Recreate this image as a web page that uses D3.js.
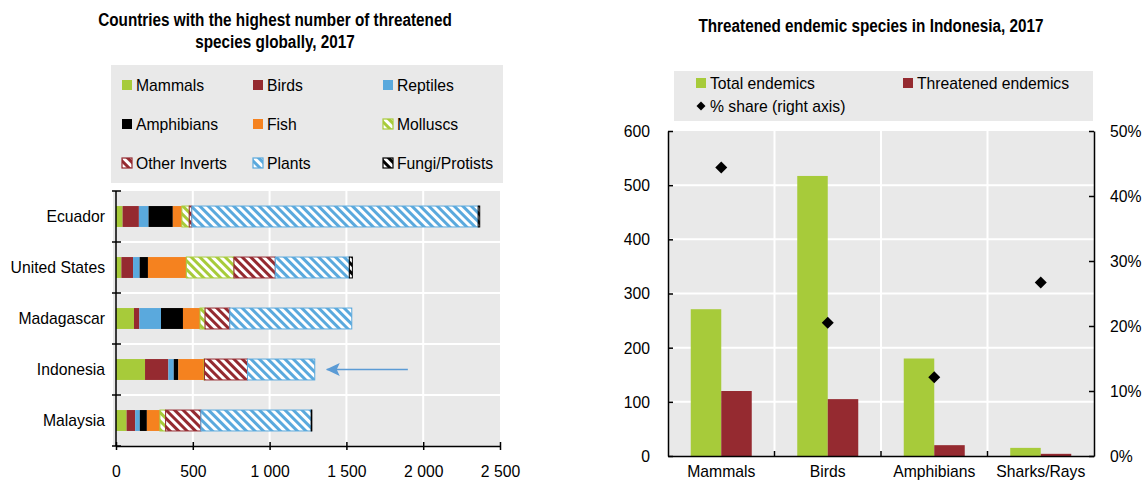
<!DOCTYPE html>
<meta charset="utf-8">
<style>

body {
  margin: 0;
  background: #fff;
}

svg text {
  font-family: "Liberation Sans", Arial, sans-serif;
  fill: #000;
}

.title {
  font-size: 18px;
  font-weight: bold;
}

.lab {
  font-size: 17px;
}

</style>
<body>
<script src="https://d3js.org/d3.v7.js"></script>
<script>

// left chart data (number of threatened species, 2017)
var countries = ["Ecuador", "United States", "Madagascar", "Indonesia", "Malaysia"];
var groups = ["Mammals", "Birds", "Reptiles", "Amphibians", "Fish", "Molluscs", "Other Inverts", "Plants", "Fungi/Protists"];
var mammals      = [43, 35, 117, 189, 69];
var birds        = [106, 76, 35, 152, 56];
var reptiles     = [63, 43, 141, 35, 30];
var amphibians   = [158, 54, 143, 30, 46];
var fish         = [59, 250, 111, 167, 85];
var molluscs     = [48, 310, 33, 3, 37];
var otherInverts = [17, 269, 161, 280, 230];
var plants       = [1864, 482, 794, 438, 718];
var fungi        = [10, 20, 0, 0, 4];
var xTicks1 = [0, 500, 1000, 1500, 2000, 2500];

// right chart data (Indonesia endemics)
var taxa = ["Mammals", "Birds", "Amphibians", "Sharks/Rays"];
var totalEndemics = [271, 517, 180, 15];
var threatenedEndemics = [120, 105, 20, 4];
var shareRight = [44.4, 20.5, 12.1, 26.7];
var yTicks2 = [0, 100, 200, 300, 400, 500, 600];
var yTicksRight = [0, 10, 20, 30, 40, 50];

var width = 1143, height = 481;

var green = "#a7cb3a", red = "#952a30", blue = "#5aa9dd", orange = "#f5821f", black = "#000";
var bg = "#e9e9e9";

var groupColor = [green, red, blue, black, orange, green, red, blue, black];
var hatched = [false, false, false, false, false, true, true, true, true];

var svg = d3.select("body").append("svg")
    .attr("width", width)
    .attr("height", height);

var defs = svg.append("defs");
groups.forEach(function(g, i) {
  if (!hatched[i]) return;
  var p = defs.append("pattern")
      .attr("id", "hatch" + i)
      .attr("patternUnits", "userSpaceOnUse")
      .attr("width", 6)
      .attr("height", 6)
      .attr("patternTransform", "rotate(-45)");
  p.append("rect").attr("width", 6).attr("height", 6).attr("fill", "#fff");
  p.append("rect").attr("width", 3).attr("height", 6).attr("fill", groupColor[i]);
});
var fillOf = i => hatched[i] ? "url(#hatch" + i + ")" : groupColor[i];

// ---------- left chart ----------
var rows = countries.map((c, i) => ({
  country: c,
  "Mammals": mammals[i], "Birds": birds[i], "Reptiles": reptiles[i],
  "Amphibians": amphibians[i], "Fish": fish[i], "Molluscs": molluscs[i],
  "Other Inverts": otherInverts[i], "Plants": plants[i], "Fungi/Protists": fungi[i]
}));

var x1 = d3.scaleLinear().domain([0, 2500]).range([116, 500]);
var y1 = d3.scaleBand().domain(countries).range([191, 446])
    .paddingInner(0.59).paddingOuter(0.295);

svg.append("text").attr("class", "title")
    .attr("x", 275).attr("y", 26).attr("text-anchor", "middle")
    .text("Countries with the highest number of threatened");
svg.append("text").attr("class", "title")
    .attr("x", 275).attr("y", 48).attr("text-anchor", "middle")
    .text("species globally, 2017");

// legend
svg.append("rect").attr("x", 111).attr("y", 65).attr("width", 392).attr("height", 118).attr("fill", bg);
var legCols = [122, 253, 383];
var legRows = [85, 124, 163];
var leg = svg.selectAll("g.leg1")
  .data(groups)
  .enter().append("g")
    .attr("class", "leg1")
    .attr("transform", (d, i) => `translate(${legCols[i % 3]}, ${legRows[Math.floor(i / 3)]})`);
leg.append("rect")
    .attr("x", 0).attr("y", -5).attr("width", 10).attr("height", 10)
    .attr("fill", (d, i) => fillOf(i))
    .attr("stroke", (d, i) => hatched[i] ? groupColor[i] : "none")
    .attr("stroke-width", 1.2);
leg.append("text").attr("class", "lab")
    .attr("x", 14).attr("y", 6)
    .text(d => d);

// plot background and grid
svg.append("rect").attr("x", 113).attr("y", 191).attr("width", 387).attr("height", 255).attr("fill", bg);
svg.append("g").selectAll("line")
  .data(xTicks1.slice(1, -1))
  .enter().append("line")
    .attr("x1", d => x1(d)).attr("x2", d => x1(d))
    .attr("y1", 191).attr("y2", 446)
    .attr("stroke", "#fff").attr("stroke-width", 2);
var bounds1 = d3.range(1, countries.length).map(i => y1.range()[0] + i * y1.step());
svg.append("g").selectAll("line")
  .data(bounds1)
  .enter().append("line")
    .attr("x1", 113).attr("x2", 500)
    .attr("y1", d => d).attr("y2", d => d)
    .attr("stroke", "#fff").attr("stroke-width", 2);

// bars
var stack = d3.stack().keys(groups)(rows);
svg.append("g").selectAll("g")
  .data(stack)
  .enter().append("g")
    .attr("fill", (d, i) => fillOf(i))
    .attr("stroke", (d, i) => hatched[i] ? groupColor[i] : "none")
    .attr("stroke-width", 1)
  .selectAll("rect")
  .data(d => d.filter(s => s[1] > s[0]))
  .enter().append("rect")
    .attr("x", d => x1(d[0]))
    .attr("width", d => x1(d[1]) - x1(d[0]))
    .attr("y", d => y1(d.data.country))
    .attr("height", y1.bandwidth());

// axes
var fmt = d3.formatLocale({decimal: ".", thousands: " ", grouping: [3], currency: ["", ""]}).format(",");
var xAxis1 = svg.append("g")
    .attr("transform", "translate(0, 446)")
    .call(d3.axisBottom(x1).tickValues(xTicks1).tickFormat(fmt).tickSize(-5).tickPadding(19).tickSizeOuter(0));
xAxis1.selectAll(".tick line").attr("y1", -4).attr("y2", 4);
var yAxis1 = svg.append("g")
    .attr("transform", "translate(116, 0)")
    .call(d3.axisLeft(y1).tickSize(0).tickPadding(11));
yAxis1.select(".domain").remove();
svg.append("g").selectAll("line")
  .data([191].concat(bounds1, [446]))
  .enter().append("line")
    .attr("x1", 112).attr("x2", 121)
    .attr("y1", d => d).attr("y2", d => d)
    .attr("stroke", "#000").attr("stroke-width", 1.5);
svg.append("line").attr("x1", 116).attr("x2", 116).attr("y1", 191).attr("y2", 446)
    .attr("stroke", "#000").attr("stroke-width", 1.5);

// arrow pointing at Indonesia
var ay = y1("Indonesia") + y1.bandwidth() / 2;
defs.append("marker")
    .attr("id", "arrowHead")
    .attr("viewBox", "0 0 14 13")
    .attr("refX", 13).attr("refY", 6.5)
    .attr("markerWidth", 14).attr("markerHeight", 13)
    .attr("markerUnits", "userSpaceOnUse")
    .attr("orient", "auto")
  .append("path")
    .attr("d", "M0,0 L14,6.5 L0,13 L3,6.5 Z")
    .attr("fill", "#5b9bd5");
svg.append("line")
    .attr("x1", x1(1900)).attr("x2", x1(1372))
    .attr("y1", ay).attr("y2", ay)
    .attr("stroke", "#5b9bd5").attr("stroke-width", 1.5)
    .attr("marker-end", "url(#arrowHead)");

// ---------- right chart ----------
var x2 = d3.scaleBand().domain(taxa).range([668, 1094]);
var x2in = d3.scaleBand().domain(["total", "threatened"]).range([0, x2.bandwidth()]).paddingOuter(0.746);
var y2 = d3.scaleLinear().domain([0, 600]).range([456, 131]);
var y2r = d3.scaleLinear().domain([0, 50]).range([456, 131]);

svg.append("text").attr("class", "title")
    .attr("x", 871).attr("y", 32).attr("text-anchor", "middle")
    .text("Threatened endemic species in Indonesia, 2017");

svg.append("rect").attr("x", 674).attr("y", 71).attr("width", 419).attr("height", 50).attr("fill", bg);
svg.append("rect").attr("x", 696).attr("y", 78).attr("width", 10).attr("height", 10).attr("fill", green);
svg.append("text").attr("class", "lab").attr("x", 710).attr("y", 89).text("Total endemics");
svg.append("rect").attr("x", 903).attr("y", 78).attr("width", 10).attr("height", 10).attr("fill", red);
svg.append("text").attr("class", "lab").attr("x", 917).attr("y", 89).text("Threatened endemics");
svg.append("path")
    .attr("d", d3.symbol(d3.symbolSquare, 40)())
    .attr("transform", "translate(701, 106) rotate(45)")
    .attr("fill", "#000");
svg.append("text").attr("class", "lab").attr("x", 710).attr("y", 112).text("% share (right axis)");

svg.append("rect").attr("x", 668).attr("y", 131).attr("width", 426).attr("height", 325).attr("fill", bg);
svg.append("g").selectAll("line")
  .data(yTicks2.slice(1, -1))
  .enter().append("line")
    .attr("x1", 668).attr("x2", 1094)
    .attr("y1", d => y2(d)).attr("y2", d => y2(d))
    .attr("stroke", "#fff").attr("stroke-width", 2);
var bounds2 = taxa.slice(1).map(t => x2(t));
svg.append("g").selectAll("line")
  .data(bounds2)
  .enter().append("line")
    .attr("x1", d => d).attr("x2", d => d)
    .attr("y1", 131).attr("y2", 456)
    .attr("stroke", "#fff").attr("stroke-width", 2);

svg.append("g").selectAll("rect")
  .data(taxa)
  .enter().append("rect")
    .attr("x", d => x2(d) + x2in("total"))
    .attr("width", x2in.bandwidth())
    .attr("y", (d, i) => y2(totalEndemics[i]))
    .attr("height", (d, i) => y2(0) - y2(totalEndemics[i]))
    .attr("fill", green);
svg.append("g").selectAll("rect")
  .data(taxa)
  .enter().append("rect")
    .attr("x", d => x2(d) + x2in("threatened"))
    .attr("width", x2in.bandwidth())
    .attr("y", (d, i) => y2(threatenedEndemics[i]))
    .attr("height", (d, i) => y2(0) - y2(threatenedEndemics[i]))
    .attr("fill", red);
svg.append("g").selectAll("path")
  .data(taxa)
  .enter().append("path")
    .attr("d", d3.symbol(d3.symbolSquare, 72)())
    .attr("transform", (d, i) => `translate(${x2(d) + x2.bandwidth() / 2}, ${y2r(shareRight[i])}) rotate(45)`)
    .attr("fill", "#000");

var yAxis2 = svg.append("g")
    .attr("transform", "translate(668, 0)")
    .call(d3.axisLeft(y2).tickValues(yTicks2).tickSize(-5).tickPadding(18).tickSizeOuter(0));
var yAxis2r = svg.append("g")
    .attr("transform", "translate(1094, 0)")
    .call(d3.axisRight(y2r).tickValues(yTicksRight).tickFormat(d => d + "%").tickSize(-5).tickPadding(16).tickSizeOuter(0));
var xAxis2 = svg.append("g")
    .attr("transform", "translate(0, 456)")
    .call(d3.axisBottom(x2).tickSize(0).tickPadding(9).tickSizeOuter(0));
svg.append("g").selectAll("line")
  .data(bounds2)
  .enter().append("line")
    .attr("x1", d => d).attr("x2", d => d)
    .attr("y1", 451).attr("y2", 456)
    .attr("stroke", "#000").attr("stroke-width", 1.5);

svg.selectAll(".tick text").attr("class", "lab").style("font-size", "17px").attr("fill", "#000");
svg.selectAll(".domain").attr("stroke", "#000").attr("stroke-width", 1.5);
svg.selectAll(".tick line").attr("stroke", "#000").attr("stroke-width", 1.5);

// the original uses a narrow face: squeeze the glyphs horizontally
svg.selectAll("text").each(function() {
  var squeeze = this.classList.contains("title") ? 0.85 : 0.925;
  d3.select(this)
    .attr("textLength", this.getComputedTextLength() * squeeze)
    .attr("lengthAdjust", "spacingAndGlyphs");
});

</script>
